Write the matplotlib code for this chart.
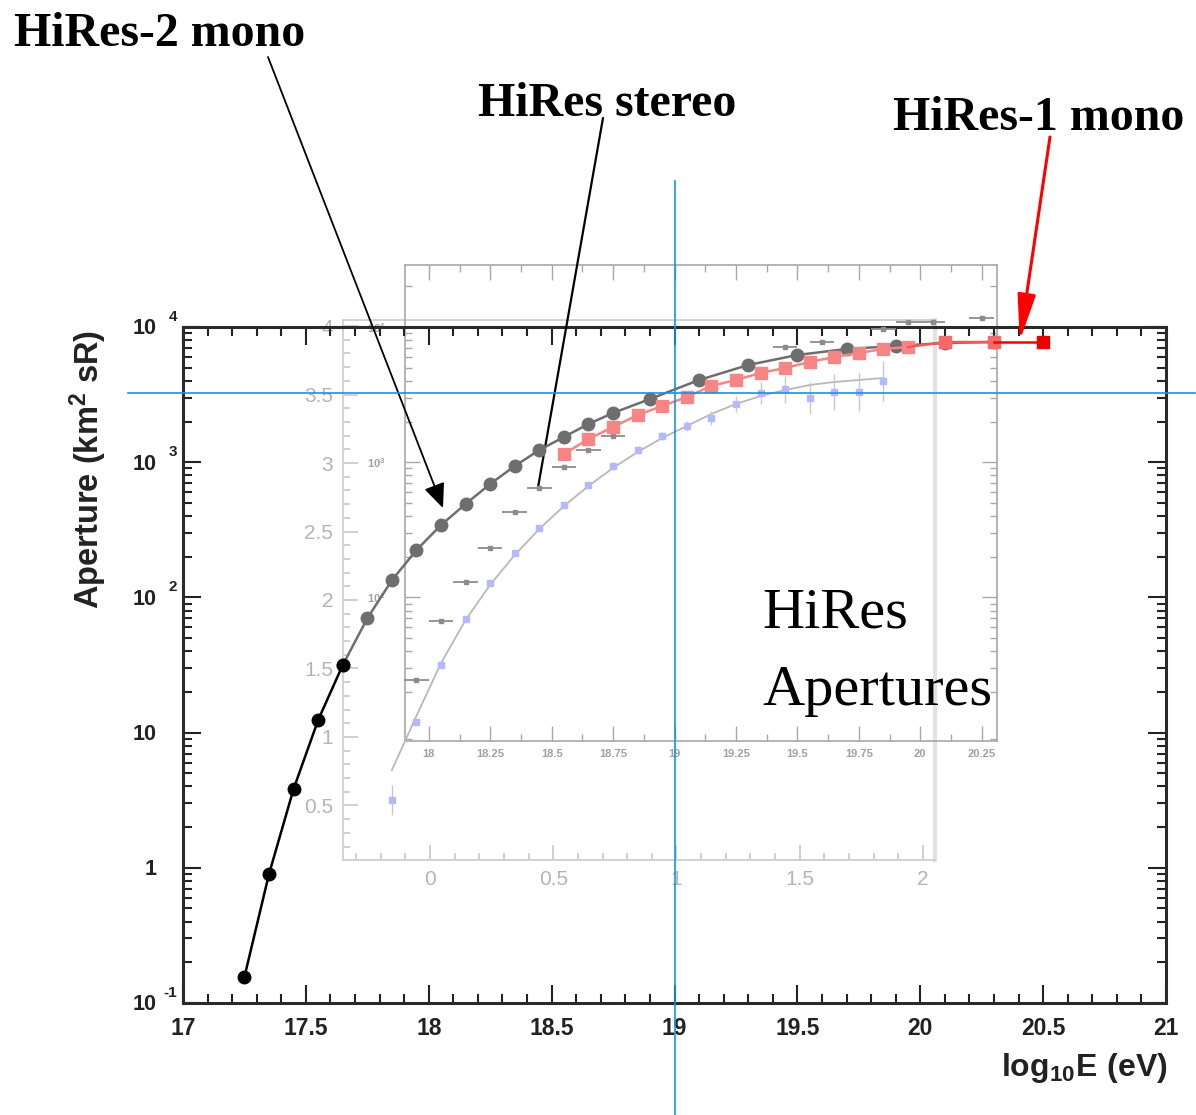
import matplotlib
matplotlib.use("Agg")
import matplotlib.pyplot as plt
import matplotlib.transforms as mtransforms
from matplotlib.ticker import MultipleLocator, FixedLocator, LogLocator, NullFormatter, FixedFormatter

plt.rcParams['font.family'] = ['Liberation Sans', 'DejaVu Sans']
plt.rcParams['mathtext.fontset'] = 'custom'
plt.rcParams['mathtext.rm'] = 'Liberation Sans'
plt.rcParams['mathtext.bf'] = 'Liberation Sans:bold'
plt.rcParams['mathtext.default'] = 'bf'

# ---------------- data ----------------
# HiRes-2 monocular aperture (km^2 sr) vs log10 E
hr2_logE = [17.25, 17.35, 17.45, 17.55, 17.65, 17.75, 17.85, 17.95, 18.05, 18.15,
            18.25, 18.35, 18.45, 18.55, 18.65, 18.75, 18.9, 19.1, 19.3, 19.5,
            19.7, 19.9, 20.1, 20.3]
hr2_aper = [0.156, 0.90, 3.83, 12.4, 31.6, 70, 134, 224, 343, 491,
            690, 937, 1230, 1536, 1917, 2312, 2933, 4055, 5236, 6209,
            6880, 7230, 7620, 7740]

# HiRes-1 monocular aperture
hr1_logE = [18.55, 18.65, 18.75, 18.85, 18.95, 19.05, 19.15, 19.25, 19.35, 19.45,
            19.55, 19.65, 19.75, 19.85, 19.95, 20.1, 20.3, 20.5]
hr1_aper = [1150, 1484, 1821, 2234, 2604, 3037, 3664, 4055, 4570, 4977,
            5510, 6000, 6424, 6880, 7110, 7745, 7745, 7745]

# HiRes stereo aperture points (with energy-bin half widths)
stereo_logE = [17.95, 18.05, 18.15, 18.25, 18.35, 18.45, 18.55, 18.65, 18.75,
               19.45, 19.6, 19.85, 19.95, 20.05, 20.25]
stereo_aper = [24.5, 66.9, 130, 232, 428, 644, 921, 1230, 1563,
               7110, 7745, 9665, 10890, 10890, 11660]

# Simulated stereo aperture points and their smooth fit
sim_logE = [17.85, 17.95, 18.05, 18.15, 18.25, 18.35, 18.45, 18.55, 18.65, 18.75,
            18.85, 18.95, 19.05, 19.15, 19.25, 19.35, 19.45, 19.55, 19.65, 19.75, 19.85]
sim_aper = [3.17, 11.97, 31.6, 69.2, 128, 213, 326, 482, 678, 937,
            1230, 1563, 1853, 2123, 2694, 3250, 3477, 2985, 3306, 3306, 3990]
sim_err_dex = [0.11, 0.02, 0.02, 0.02, 0.02, 0.02, 0.02, 0.02, 0.02, 0.03,
               0.03, 0.03, 0.04, 0.05, 0.06, 0.08, 0.10, 0.12, 0.13, 0.14, 0.15]
fit_aper = [5.28, 13.3, 32.7, 68.1, 124, 206, 321, 474, 667, 906,
            1190, 1510, 1853, 2274, 2694, 3090, 3420, 3724, 3920, 4055, 4198]

x_ticks = [17, 17.5, 18, 18.5, 19, 19.5, 20, 20.5, 21]
x_ticklabels = ['17', '17.5', '18', '18.5', '19', '19.5', '20', '20.5', '21']
y_ticks = [0.1, 1, 10, 100, 1000, 10000]
y_tick_base = ['10', '1', '10', '10', '10', '10']
y_tick_exp = ['-1', '', '', '2', '3', '4']

inset_x_ticks = [18, 18.25, 18.5, 18.75, 19, 19.25, 19.5, 19.75, 20, 20.25]
inset_x_labels = ['18', '18.25', '18.5', '18.75', '19', '19.25', '19.5', '19.75', '20', '20.25']
rel_x_ticks = [0, 0.5, 1, 1.5, 2]
rel_x_labels = ['0', '0.5', '1', '1.5', '2']
rel_y_ticks = [0.5, 1, 1.5, 2, 2.5, 3, 3.5, 4]
rel_y_labels = ['0.5', '1', '1.5', '2', '2.5', '3', '3.5', '4']

cross_logE = 19.0
cross_aper = 3250

# ---------------- figure ----------------
W, H = 1196, 1115
fig = plt.figure(figsize=(W / 100, H / 100), dpi=100)
fig.patch.set_facecolor('white')


def box(x0, y0, x1, y1):
    return [x0 / W, 1 - y1 / H, (x1 - x0) / W, (y1 - y0) / H]


# faded background panel: log10(E/EeV) vs log10(aperture)
axB = fig.add_axes(box(343, 320, 935, 860), zorder=0)
axB.set_facecolor('none')
axB.set_xlim(-0.353, 2.049)
axB.set_ylim(0.102, 4.044)
axB.xaxis.set_major_locator(FixedLocator(rel_x_ticks))
axB.xaxis.set_major_formatter(FixedFormatter(rel_x_labels))
axB.xaxis.set_minor_locator(MultipleLocator(0.1))
axB.yaxis.set_major_locator(FixedLocator(rel_y_ticks))
axB.yaxis.set_major_formatter(FixedFormatter(rel_y_labels))
axB.yaxis.set_minor_locator(MultipleLocator(0.1))
axB.tick_params(which='both', direction='in', colors='#c8c8c8', labelcolor='#b4b4b4',
                labelsize=15, width=1.2)
axB.tick_params(which='major', length=11, pad=7)
axB.tick_params(which='minor', length=5)
for s in axB.spines.values():
    s.set_color('#d2d2d2')
    s.set_linewidth(1.4)
axB.spines['right'].set_color('#e2e2e2')
axB.spines['right'].set_linewidth(3)

# faded background panel: log10 E vs aperture
axA = fig.add_axes(box(405, 265, 997, 741), zorder=0.5)
axA.set_facecolor('none')
axA.set_xlim(17.903, 20.312)
axA.set_yscale('log')
axA.set_ylim(10 ** 0.938, 10 ** 4.459)
axA.xaxis.set_major_locator(FixedLocator(inset_x_ticks))
axA.xaxis.set_major_formatter(FixedFormatter(inset_x_labels))
axA.xaxis.set_minor_locator(MultipleLocator(0.125))
axA.yaxis.set_major_locator(FixedLocator([1e2, 1e3, 1e4]))
axA.yaxis.set_major_formatter(FixedFormatter([r'10$^2$', r'10$^3$', r'10$^4$']))
axA.yaxis.set_minor_locator(LogLocator(base=10, subs=range(2, 10)))
axA.yaxis.set_minor_formatter(NullFormatter())
axA.tick_params(which='both', direction='in', top=True, right=True,
                colors='#a8a8a8', labelcolor='#a0a0a0', labelsize=8, width=1.0)
axA.tick_params(which='major', length=11, pad=6)
axA.tick_params(which='minor', length=5)
axA.tick_params(axis='y', which='major', pad=14)
for lbl in axA.get_xticklabels() + axA.get_yticklabels():
    lbl.set_fontweight('bold')
for s in axA.spines.values():
    s.set_color('#a8a8a8')
    s.set_linewidth(1.2)

# main axes
ax = fig.add_axes(box(183, 327, 1166, 1003), zorder=1)
ax.set_facecolor('none')
ax.set_xlim(17, 21)
ax.set_yscale('log')
ax.set_ylim(0.1, 1e4)

# simulated stereo aperture and fit
ax.plot(sim_logE, fit_aper, color='#b8b8b8', lw=1.3, zorder=2)
sim_lo = [a - a / (10 ** e) for a, e in zip(sim_aper, sim_err_dex)]
sim_hi = [a * (10 ** e) - a for a, e in zip(sim_aper, sim_err_dex)]
ax.errorbar(sim_logE, sim_aper, yerr=[sim_lo, sim_hi], fmt='s', ms=5,
            color='#b4b8ff', ecolor='#c8c8c8', elinewidth=1.0, capsize=0, zorder=3)

# stereo points
ax.errorbar(stereo_logE, stereo_aper, xerr=0.05, fmt='s', ms=3, color='#8c8c8c',
            elinewidth=1.3, capsize=0, zorder=3, clip_on=False)

# HiRes-2 mono
n_dark = 5
ax.plot(hr2_logE[n_dark - 1:], hr2_aper[n_dark - 1:], '-o', color='#6e6e6e', lw=1.8,
        ms=9, zorder=4)
ax.plot(hr2_logE[:n_dark], hr2_aper[:n_dark], '-o', color='black', lw=1.8, ms=9, zorder=5)

# HiRes-1 mono
ax.plot(hr1_logE[:15], hr1_aper[:15], '-s', color='#f78585', lw=1.8, ms=9, zorder=6)
ax.plot(hr1_logE[14:17], hr1_aper[14:17], '-', color='#f25a5a', lw=1.8, zorder=6)
ax.plot(hr1_logE[15:17], hr1_aper[15:17], 's', color='#f46a6a', ms=9, zorder=6)
ax.plot(hr1_logE[16:], hr1_aper[16:], '-', color='#ff0000', lw=1.8, zorder=6)
ax.plot(hr1_logE[17:], hr1_aper[17:], 's', color='#ee0000', ms=9, zorder=7, clip_on=False)

# axes style
ax.set_xticks(x_ticks)
ax.set_xticklabels(x_ticklabels)
ax.xaxis.set_minor_locator(MultipleLocator(0.1))
ax.set_yticks(y_ticks)
ax.set_yticklabels([])
ax.yaxis.set_minor_locator(LogLocator(base=10, subs=range(2, 10)))
ax.yaxis.set_minor_formatter(NullFormatter())
ax.tick_params(which='both', direction='in', top=True, right=True, colors='#222222',
               width=1.5)
ax.tick_params(which='major', length=13, labelsize=16.5, pad=10)
ax.tick_params(which='minor', length=6.5)
for lbl in ax.get_xticklabels():
    lbl.set_fontweight('bold')
for s in ax.spines.values():
    s.set_linewidth(2.2)
    s.set_color('#2a2a2a')

blend = mtransforms.blended_transform_factory(ax.transAxes, ax.transData)
for v, base, ex in zip(y_ticks, y_tick_base, y_tick_exp):
    tb = blend + mtransforms.ScaledTranslation(-26 / 100, -2 / 100, fig.dpi_scale_trans)
    ax.text(0, v, base, transform=tb, ha='right', va='center', fontsize=15.5,
            fontweight='bold', color='#222222')
    if ex:
        te = blend + mtransforms.ScaledTranslation(-6 / 100, 10 / 100, fig.dpi_scale_trans)
        ax.text(0, v, ex, transform=te, ha='right', va='center', fontsize=11,
                fontweight='bold', color='#222222')

fig.text(88 / W, 1 - 470 / H, r'Aperture (km$^{2}$ sR)', rotation=90, ha='center',
         va='center', fontsize=23.5, fontweight='bold', color='#222222')
fig.text(1168 / W, 1 - 1068 / H, r'$\mathbf{log_{10}E\ (eV)}$', ha='right', va='center',
         fontsize=23, color='#222222')

# crosshair
ax.plot([cross_logE, cross_logE], [10 ** -1.83, 10 ** 5.08], color='#1591ea', lw=1.2,
        clip_on=False, zorder=9)
ax.plot([16.776, 21.12], [cross_aper, cross_aper], color='#1591ea', lw=1.2,
        clip_on=False, zorder=9)

# labels with pointers
serif = ['Liberation Serif', 'DejaVu Serif']
fig.text(14 / W, 1 - 46 / H, 'HiRes-2 mono', family=serif, fontweight='bold',
         fontsize=34.5, va='baseline', ha='left')
fig.text(478 / W, 1 - 116 / H, 'HiRes stereo', family=serif, fontweight='bold',
         fontsize=34.5, va='baseline', ha='left')
fig.text(893 / W, 1 - 130 / H, 'HiRes-1 mono', family=serif, fontweight='bold',
         fontsize=34.5, va='baseline', ha='left')
fig.text(762 / W, 1 - 628 / H, 'HiRes', family=serif, fontsize=42, va='baseline', ha='left')
fig.text(762 / W, 1 - 705 / H, 'Apertures', family=serif, fontsize=42, va='baseline',
         ha='left')

ax.annotate('', xy=(18.058, 458), xycoords='data', xytext=(268, H - 57),
            textcoords='figure pixels', annotation_clip=False,
            arrowprops=dict(arrowstyle='-|>,head_length=1.5,head_width=0.65',
                            color='black', lw=1.3, shrinkA=0, shrinkB=0))
ax.annotate('', xy=(18.445, 656), xycoords='data', xytext=(603, H - 118),
            textcoords='figure pixels', annotation_clip=False,
            arrowprops=dict(arrowstyle='-', color='black', lw=1.6, shrinkA=0, shrinkB=0))
ax.annotate('', xy=(20.405, 7900), xycoords='data', xytext=(1050, H - 137),
            textcoords='figure pixels', annotation_clip=False,
            arrowprops=dict(arrowstyle='-|>,head_length=2.8,head_width=0.55',
                            color='#ff0000', lw=2.2, shrinkA=0, shrinkB=0))

fig.savefig('out.png', dpi=100)
